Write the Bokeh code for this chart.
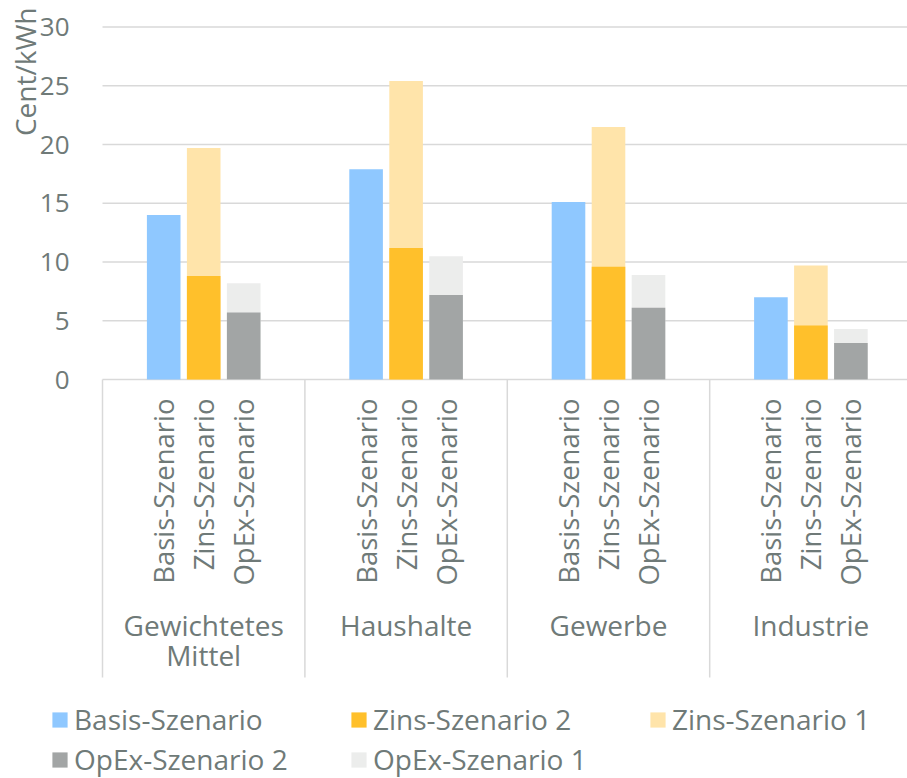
import math
from bokeh.plotting import figure
from bokeh.models import Range1d, FixedTicker, Label, Legend, LegendItem, LinearAxis
from bokeh.embed import file_html
from bokeh.resources import INLINE

# ---- data ----
groups = ["Gewichtetes\nMittel", "Haushalte", "Gewerbe", "Industrie"]
scenarios = ["Basis-Szenario", "Zins-Szenario", "OpEx-Szenario"]
basis = [14.0, 17.9, 15.1, 7.0]
zins_2 = [8.8, 11.2, 9.6, 4.6]
zins_1 = [19.7, 25.4, 21.5, 9.7]
opex_2 = [5.7, 7.2, 6.1, 3.1]
opex_1 = [8.2, 10.5, 8.9, 4.3]
y_ticks = [0, 5, 10, 15, 20, 25, 30]
series_names = ["Basis-Szenario", "Zins-Szenario 2", "Zins-Szenario 1", "OpEx-Szenario 2", "OpEx-Szenario 1"]

# ---- style ----
FONT = "Open Sans"
TXT = "#6F7A78"
GRID = "#D9D9D9"
C_BASIS = "#8FC8FF"
C_Z2 = "#FFC02B"
C_Z1 = "#FFE4AA"
C_O2 = "#A2A5A5"
C_O1 = "#ECEDEC"

# ---- layout of the categorical positions ----
GP = 2.06                     # gap between groups (in bar slots)
PITCH = len(scenarios) + GP   # distance between groups
B0 = -0.5 - GP / 2            # left boundary of first group
W_FIG, H_FIG = 907, 778
PX = 40.0                     # px per bar slot
X_LEFT = 102                  # px of first group boundary
PY = 11.75                    # px per y unit
Y0 = 379                      # px of y = 0
SEP_BOTTOM = 677              # px where separators end

x_start = B0 - X_LEFT / PX
x_end = x_start + W_FIG / PX
y_end = Y0 / PY
y_start = -(H_FIG - Y0) / PY
y_sep = -(SEP_BOTTOM - Y0) / PY

def xpos(s):
    return [g * PITCH + s for g in range(len(groups))]

sub_ticks = [g * PITCH + s for g in range(len(groups)) for s in range(len(scenarios))]
sub_labels = {g * PITCH + s: scenarios[s] for g in range(len(groups)) for s in range(len(scenarios))}
grp_ticks = [g * PITCH + (len(scenarios) - 1) / 2 for g in range(len(groups))]
grp_labels = {g * PITCH + (len(scenarios) - 1) / 2: groups[g] for g in range(len(groups))}
bounds_x = [B0 + g * PITCH for g in range(len(groups) + 1)]

p = figure(x_range=Range1d(x_start, x_end), y_range=Range1d(y_start, y_end),
           width=W_FIG, height=H_FIG, output_backend="svg", toolbar_location=None,
           min_border=0, x_axis_type=None, y_axis_type=None)
p.outline_line_color = None

# gridlines (from the first group boundary to the right)
p.segment(x0=B0, x1=x_end + 2, y0=y_ticks, y1=y_ticks, line_color=GRID, line_width=1.5)
# group separators below the axis
p.segment(x0=bounds_x, x1=bounds_x, y0=0, y1=y_sep, line_color=GRID, line_width=1.5)

W = 0.84
r_basis = p.vbar(x=xpos(0), top=basis, width=W, fill_color=C_BASIS, line_color=None)
r_z1 = p.vbar(x=xpos(1), top=zins_1, width=W, fill_color=C_Z1, line_color=None)
r_z2 = p.vbar(x=xpos(1), top=zins_2, width=W, fill_color=C_Z2, line_color=None)
r_o1 = p.vbar(x=xpos(2), top=opex_1, width=W, fill_color=C_O1, line_color=None)
r_o2 = p.vbar(x=xpos(2), top=opex_2, width=W, fill_color=C_O2, line_color=None)

def style_axis(ax, size):
    ax.axis_line_color = None
    ax.major_tick_line_color = None
    ax.minor_tick_line_color = None
    ax.major_label_text_font = FONT
    ax.major_label_text_font_size = size
    ax.major_label_text_color = TXT

ya = LinearAxis(ticker=FixedTicker(ticks=y_ticks), fixed_location=B0)
style_axis(ya, "26px")
ya.major_label_standoff = 27
p.add_layout(ya, "left")

xs_ax = LinearAxis(ticker=FixedTicker(ticks=sub_ticks), major_label_overrides=sub_labels,
                   fixed_location=0)
style_axis(xs_ax, "27.5px")
xs_ax.major_label_orientation = math.pi / 2
xs_ax.major_label_standoff = 13
p.add_layout(xs_ax, "below")

xg_ax = LinearAxis(ticker=FixedTicker(ticks=grp_ticks), major_label_overrides=grp_labels,
                   fixed_location=0)
style_axis(xg_ax, "28px")
xg_ax.major_label_standoff = 220
xg_ax.major_label_text_line_height = 0.8
p.add_layout(xg_ax, "below")

p.add_layout(Label(x=24, y=H_FIG - 7, x_units="screen", y_units="screen", text="Cent/kWh",
                   angle=math.pi / 2, text_align="right", text_baseline="middle",
                   text_font=FONT, text_font_size="28px", text_color=TXT))

legend = Legend(items=[
    LegendItem(label=series_names[0], renderers=[r_basis]),
    LegendItem(label=series_names[1], renderers=[r_z2]),
    LegendItem(label=series_names[2], renderers=[r_z1]),
    LegendItem(label=series_names[3], renderers=[r_o2]),
    LegendItem(label=series_names[4], renderers=[r_o1]),
], orientation="horizontal", ncols=3, location=(50, 0),
    glyph_width=19, glyph_height=19, label_standoff=5, label_width=273, spacing=2,
    padding=0, margin=0, border_line_color=None, background_fill_alpha=0,
    label_text_font=FONT, label_text_font_size="28px", label_text_color=TXT)
p.add_layout(legend)

open("out.html", "w").write(file_html(p, INLINE))
